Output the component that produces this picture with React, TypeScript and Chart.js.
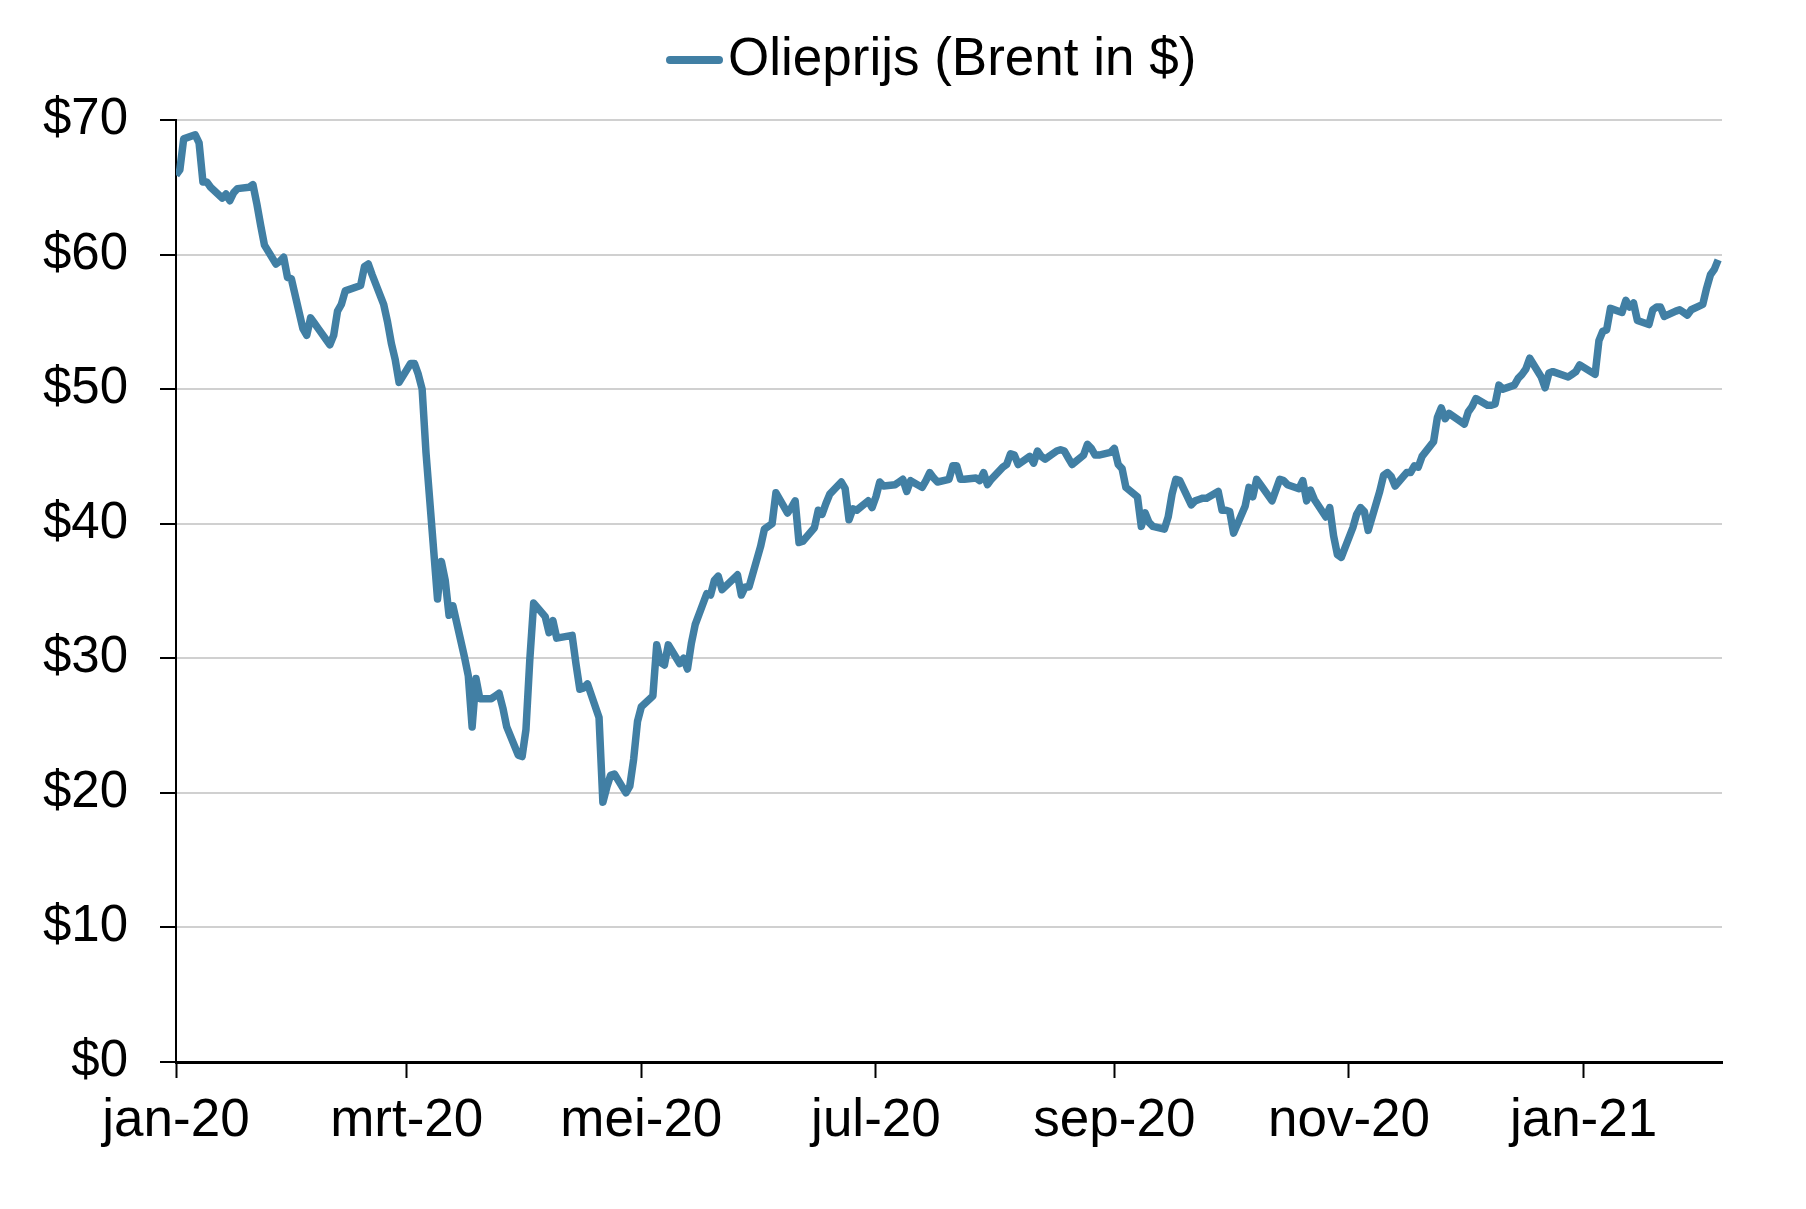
import React, { useEffect, useRef } from "react";
import { Chart, registerables } from "chart.js";

Chart.register(...registerables);

const seriesLabel = "Olieprijs (Brent in $)";

// Trading days (one line per month) and the Brent price
const tradingDays: string[] = [
  "2020-01-01","2020-01-02","2020-01-03","2020-01-06","2020-01-07","2020-01-08","2020-01-09","2020-01-10","2020-01-13","2020-01-14","2020-01-15","2020-01-16","2020-01-17","2020-01-20","2020-01-21","2020-01-22","2020-01-23","2020-01-24","2020-01-27","2020-01-28","2020-01-29","2020-01-30","2020-01-31",
  "2020-02-03","2020-02-04","2020-02-05","2020-02-06","2020-02-07","2020-02-10","2020-02-11","2020-02-12","2020-02-13","2020-02-14","2020-02-18","2020-02-19","2020-02-20","2020-02-21","2020-02-24","2020-02-25","2020-02-26","2020-02-27","2020-02-28",
  "2020-03-02","2020-03-03","2020-03-04","2020-03-05","2020-03-06","2020-03-09","2020-03-10","2020-03-11","2020-03-12","2020-03-13","2020-03-16","2020-03-17","2020-03-18","2020-03-19","2020-03-20","2020-03-23","2020-03-24","2020-03-25","2020-03-26","2020-03-27","2020-03-30","2020-03-31",
  "2020-04-01","2020-04-02","2020-04-03","2020-04-06","2020-04-07","2020-04-08","2020-04-09","2020-04-13","2020-04-14","2020-04-15","2020-04-16","2020-04-17","2020-04-20","2020-04-21","2020-04-22","2020-04-23","2020-04-24","2020-04-27","2020-04-28","2020-04-29","2020-04-30",
  "2020-05-01","2020-05-04","2020-05-05","2020-05-06","2020-05-07","2020-05-08","2020-05-11","2020-05-12","2020-05-13","2020-05-14","2020-05-15","2020-05-18","2020-05-19","2020-05-20","2020-05-21","2020-05-22","2020-05-26","2020-05-27","2020-05-28","2020-05-29",
  "2020-06-01","2020-06-02","2020-06-03","2020-06-04","2020-06-05","2020-06-08","2020-06-09","2020-06-10","2020-06-11","2020-06-12","2020-06-15","2020-06-16","2020-06-17","2020-06-18","2020-06-19","2020-06-22","2020-06-23","2020-06-24","2020-06-25","2020-06-26","2020-06-29","2020-06-30",
  "2020-07-01","2020-07-02","2020-07-03","2020-07-06","2020-07-07","2020-07-08","2020-07-09","2020-07-10","2020-07-13","2020-07-14","2020-07-15","2020-07-16","2020-07-17","2020-07-20","2020-07-21","2020-07-22","2020-07-23","2020-07-24","2020-07-27","2020-07-28","2020-07-29","2020-07-30","2020-07-31",
  "2020-08-03","2020-08-04","2020-08-05","2020-08-06","2020-08-07","2020-08-10","2020-08-11","2020-08-12","2020-08-13","2020-08-14","2020-08-17","2020-08-18","2020-08-19","2020-08-20","2020-08-21","2020-08-24","2020-08-25","2020-08-26","2020-08-27","2020-08-28","2020-08-31",
  "2020-09-01","2020-09-02","2020-09-03","2020-09-04","2020-09-07","2020-09-08","2020-09-09","2020-09-10","2020-09-11","2020-09-14","2020-09-15","2020-09-16","2020-09-17","2020-09-18","2020-09-21","2020-09-22","2020-09-23","2020-09-24","2020-09-25","2020-09-28","2020-09-29","2020-09-30",
  "2020-10-01","2020-10-02","2020-10-05","2020-10-06","2020-10-07","2020-10-08","2020-10-09","2020-10-12","2020-10-13","2020-10-14","2020-10-15","2020-10-16","2020-10-19","2020-10-20","2020-10-21","2020-10-22","2020-10-23","2020-10-26","2020-10-27","2020-10-28","2020-10-29","2020-10-30",
  "2020-11-02","2020-11-03","2020-11-04","2020-11-05","2020-11-06","2020-11-09","2020-11-10","2020-11-11","2020-11-12","2020-11-13","2020-11-16","2020-11-17","2020-11-18","2020-11-19","2020-11-20","2020-11-23","2020-11-24","2020-11-25","2020-11-26","2020-11-27","2020-11-30",
  "2020-12-01","2020-12-02","2020-12-03","2020-12-04","2020-12-07","2020-12-08","2020-12-09","2020-12-10","2020-12-11","2020-12-14","2020-12-15","2020-12-16","2020-12-17","2020-12-18","2020-12-21","2020-12-22","2020-12-23","2020-12-24","2020-12-28","2020-12-29","2020-12-30","2020-12-31",
  "2021-01-04","2021-01-05","2021-01-06","2021-01-07","2021-01-08","2021-01-11","2021-01-12","2021-01-13","2021-01-14","2021-01-15","2021-01-18","2021-01-19","2021-01-20","2021-01-21","2021-01-22","2021-01-25","2021-01-26","2021-01-27","2021-01-28","2021-01-29",
  "2021-02-01","2021-02-02","2021-02-03","2021-02-04","2021-02-05",
];

const brentPrices: number[] = [
  65.9, 66.3, 68.6, 68.9, 68.3, 65.4, 65.4, 65.0, 64.2, 64.5, 64.0, 64.6, 64.9, 65.0, 65.2, 63.8, 62.2, 60.7, 59.3, 59.5, 59.8, 58.3, 58.2,
  54.5, 54.0, 55.3, 54.9, 54.5, 53.3, 54.0, 55.8, 56.3, 57.3, 57.7, 59.1, 59.3, 58.5, 56.3, 55.0, 53.4, 52.2, 50.5,
  51.9, 51.9, 51.1, 50.0, 45.3, 34.4, 37.2, 35.8, 33.2, 33.9, 30.1, 28.7, 24.9, 28.5, 27.0, 27.0, 27.2, 27.4, 26.3, 24.9, 22.8, 22.7,
  24.7, 29.9, 34.1, 33.1, 31.9, 32.8, 31.5, 31.7, 29.6, 27.7, 27.8, 28.1, 25.6, 19.3, 20.4, 21.3, 21.4, 20.0, 20.5, 22.5, 25.3,
  26.4, 27.2, 31.0, 29.7, 29.5, 31.0, 29.6, 30.0, 29.2, 31.1, 32.5, 34.8, 34.7, 35.8, 36.1, 35.1, 36.2, 34.7, 35.3, 35.3,
  38.3, 39.6, 39.8, 40.0, 42.3, 40.8, 41.2, 41.7, 38.6, 38.7, 39.7, 41.0, 40.7, 41.5, 42.2, 43.1, 42.6, 40.3, 41.1, 41.0, 41.7, 41.2,
  42.0, 43.1, 42.8, 42.9, 43.1, 43.3, 42.4, 43.2, 42.7, 43.2, 43.8, 43.4, 43.1, 43.3, 44.3, 44.3, 43.3, 43.3, 43.4, 43.2, 43.8, 42.9, 43.3,
  44.2, 44.4, 45.2, 45.1, 44.4, 45.0, 44.5, 45.4, 45.0, 44.8, 45.4, 45.5, 45.4, 44.9, 44.4, 45.1, 45.9, 45.6, 45.1, 45.1, 45.3,
  45.6, 44.4, 44.1, 42.7, 42.0, 39.8, 40.8, 40.1, 39.8, 39.6, 40.5, 42.2, 43.3, 43.2, 41.4, 41.7, 41.8, 41.9, 41.9, 42.4, 41.0, 41.0,
  40.9, 39.3, 41.3, 42.7, 42.0, 43.3, 42.9, 41.7, 42.5, 43.3, 43.2, 42.9, 42.6, 43.2, 41.7, 42.5, 41.8, 40.5, 41.2, 39.1, 37.7, 37.5,
  39.7, 40.7, 41.2, 40.9, 39.5, 42.4, 43.6, 43.8, 43.5, 42.8, 43.8, 43.8, 44.3, 44.2, 45.0, 46.1, 47.9, 48.6, 47.8, 48.2, 47.6,
  47.4, 48.3, 48.7, 49.3, 48.8, 48.8, 48.9, 50.3, 50.0, 50.3, 50.8, 51.1, 51.5, 52.3, 50.9, 50.1, 51.2, 51.3, 50.9, 51.1, 51.3, 51.8,
  51.1, 53.6, 54.3, 54.4, 56.0, 55.7, 56.6, 56.1, 56.4, 55.1, 54.8, 55.9, 56.1, 56.1, 55.4, 55.8, 55.9, 55.7, 55.5, 55.9,
  56.3, 57.5, 58.5, 58.9, 59.6,
];

const monthTickDates: string[] = ["2020-01-01", "2020-03-01", "2020-05-01", "2020-07-01", "2020-09-01", "2020-11-01", "2021-01-01"];
const monthTickLabels: string[] = ["jan-20", "mrt-20", "mei-20", "jul-20", "sep-20", "nov-20", "jan-21"];

const axisStartDate = "2020-01-01";
const axisEndDate = "2021-02-06";
const yMin = 0;
const yMax = 70;
const yStep = 10;

const LINE_COLOR = "#417fa4";
const FONT = '"Liberation Sans", Arial, Helvetica, sans-serif';

const dayIndex = (iso: string): number => {
  const [y, m, d] = iso.split("-").map(Number);
  return (Date.UTC(y, m - 1, d) - Date.UTC(2020, 0, 1)) / 86400000;
};

export default function App() {
  const canvasRef = useRef<HTMLCanvasElement | null>(null);

  useEffect(() => {
    const canvas = canvasRef.current;
    if (!canvas) return;

    const points = tradingDays.map((d, i) => ({ x: dayIndex(d), y: brentPrices[i] }));
    const tickPos = monthTickDates.map(dayIndex);

    const legendPlugin = {
      id: "customLegend",
      afterDraw(chart: any) {
        const ctx = chart.ctx as CanvasRenderingContext2D;
        ctx.save();
        ctx.strokeStyle = LINE_COLOR;
        ctx.lineWidth = 8;
        ctx.lineCap = "round";
        ctx.beginPath();
        ctx.moveTo(670, 60);
        ctx.lineTo(719, 60);
        ctx.stroke();
        ctx.font = `53px ${FONT}`;
        ctx.fillStyle = "#000";
        ctx.textAlign = "left";
        ctx.textBaseline = "middle";
        ctx.fillText(seriesLabel, 728, 60);
        ctx.restore();
      },
    };

    const chart = new Chart(canvas, {
      type: "line",
      data: {
        datasets: [
          {
            label: seriesLabel,
            data: points,
            borderColor: LINE_COLOR,
            backgroundColor: LINE_COLOR,
            borderWidth: 7.5,
            pointRadius: 0,
            pointHoverRadius: 0,
            tension: 0,
            fill: false,
            borderJoinStyle: "round",
          } as any,
        ],
      },
      options: {
        animation: false,
        responsive: false,
        devicePixelRatio: 1,
        events: [],
        layout: { padding: { top: 120, right: 84, bottom: 0, left: 0 } },
        plugins: {
          legend: { display: false },
          tooltip: { enabled: false },
        },
        scales: {
          x: {
            type: "linear",
            min: dayIndex(axisStartDate),
            max: dayIndex(axisEndDate),
            afterBuildTicks: (scale: any) => {
              scale.ticks = tickPos.map((v) => ({ value: v }));
            },
            afterFit: (scale: any) => {
              scale.height = 147;
            },
            ticks: {
              autoSkip: false,
              maxRotation: 0,
              minRotation: 0,
              padding: 12,
              color: "#000",
              font: { family: FONT, size: 53 },
              callback: (v: any) => {
                const i = tickPos.indexOf(Number(v));
                return i >= 0 ? monthTickLabels[i] : "";
              },
            },
            grid: {
              display: true,
              drawOnChartArea: false,
              drawTicks: true,
              tickLength: 16,
              tickWidth: 2,
              tickColor: "#000",
            },
            border: { display: true, color: "#000", width: 3 },
          },
          y: {
            min: yMin,
            max: yMax,
            afterFit: (scale: any) => {
              scale.width = 176;
            },
            ticks: {
              stepSize: yStep,
              padding: 32,
              color: "#000",
              font: { family: FONT, size: 51 },
              callback: (v: any) => "$" + v,
            },
            grid: {
              color: (ctx: any) => (ctx.tick && ctx.tick.value === 0 ? "rgba(0,0,0,0)" : "#d0d0d0"),
              lineWidth: 2,
              tickColor: "#000",
              tickLength: 16,
              tickWidth: 2,
            },
            border: { display: true, color: "#000", width: 2 },
          },
        },
      } as any,
      plugins: [legendPlugin],
    });

    return () => chart.destroy();
  }, []);

  return (
    <div style={{ position: "absolute", left: 0, top: 0, width: 1806, height: 1209, background: "#fff" }}>
      <canvas ref={canvasRef} width={1806} height={1209} style={{ display: "block", width: 1806, height: 1209 }} />
    </div>
  );
}
